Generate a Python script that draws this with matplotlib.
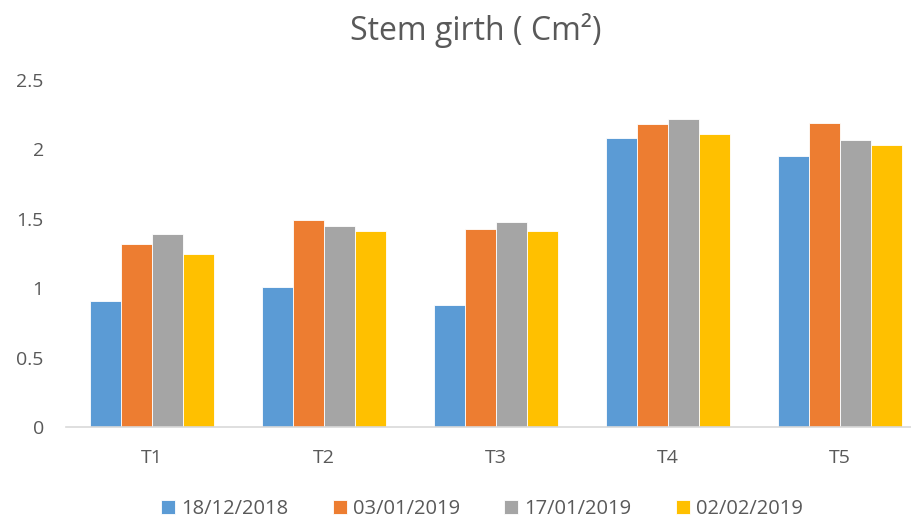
import matplotlib
matplotlib.use("Agg")
import matplotlib.pyplot as plt
import numpy as np

categories = ["T1", "T2", "T3", "T4", "T5"]
series_names = ["18/12/2018", "03/01/2019", "17/01/2019", "02/02/2019"]
s1 = [0.91, 1.01, 0.88, 2.08, 1.95]
s2 = [1.32, 1.49, 1.43, 2.18, 2.19]
s3 = [1.39, 1.45, 1.48, 2.22, 2.07]
s4 = [1.25, 1.41, 1.41, 2.11, 2.03]
yticks = [0, 0.5, 1, 1.5, 2, 2.5]
ytick_labels = ["0", "0.5", "1", "1.5", "2", "2.5"]

colors = ["#5B9BD5", "#ED7D31", "#A5A5A5", "#FFC000"]
txt = "#595959"
plt.rcParams['font.family'] = ['Open Sans', 'DejaVu Sans']

W, H = 912, 522
fig = plt.figure(figsize=(W/100, H/100), dpi=100)
left, right, top, bottom = 66, 926, 80, 427
ax = fig.add_axes([left/W, (H-bottom)/H, (right-left)/W, (bottom-top)/H])

x = np.arange(len(categories))
bw = 0.18
for i, (vals, name) in enumerate(zip([s1, s2, s3, s4], series_names)):
    ax.bar(x + (i-1.5)*bw, vals, bw, color=colors[i], label=name,
           edgecolor="white", linewidth=0.6)

ax.set_xlim(-0.5, len(categories)-0.5)
ax.set_ylim(0, 2.5)
ax.set_yticks(yticks)
ax.set_yticklabels(ytick_labels)
ax.set_xticks(x)
ax.set_xticklabels(categories)
for s in ["top", "right", "left"]:
    ax.spines[s].set_visible(False)
ax.spines["bottom"].set_color("#D9D9D9")
ax.spines["bottom"].set_linewidth(1.2)
ax.tick_params(axis="both", length=0, labelsize=14, colors=txt)
ax.tick_params(axis="x", pad=16)
ax.tick_params(axis="y", pad=16)

fig.text(476/W, 1-30/H, "Stem girth ( Cm²)", ha="center", va="center",
         fontsize=23, color=txt)

leg = fig.legend(loc="center", bbox_to_anchor=(482/W, 1-509/H), ncol=4,
                 frameon=False, fontsize=14.5, handlelength=0.7, handleheight=0.7,
                 handletextpad=0.3, columnspacing=2.2)
for t in leg.get_texts():
    t.set_color(txt)

fig.savefig("out.png", dpi=100)
